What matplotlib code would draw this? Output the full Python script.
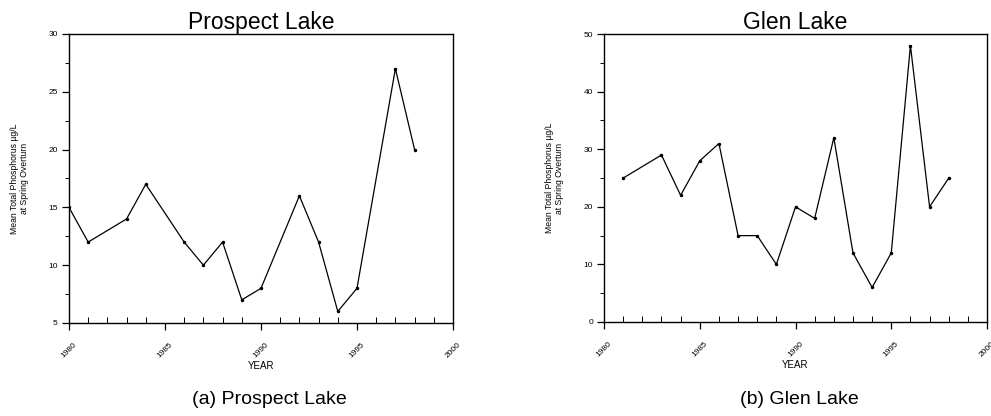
import matplotlib
matplotlib.use("Agg")
import matplotlib.pyplot as plt
from matplotlib.ticker import MultipleLocator

prospect_years = [1980, 1981, 1983, 1984, 1986, 1987, 1988, 1989, 1990, 1992, 1993, 1994, 1995, 1997, 1998]
prospect_tp = [15, 12, 14, 17, 12, 10, 12, 7, 8, 16, 12, 6, 8, 27, 20]

glen_years = [1981, 1983, 1984, 1985, 1986, 1987, 1988, 1989, 1990, 1991, 1992, 1993, 1994, 1995, 1996, 1997, 1998]
glen_tp = [25, 29, 22, 28, 31, 15, 15, 10, 20, 18, 32, 12, 6, 12, 48, 20, 25]

xticks = [1980, 1985, 1990, 1995, 2000]
xticklabels = ["1980", "1985", "1990", "1995", "2000"]

plt.rcParams['font.family'] = ['Liberation Sans', 'DejaVu Sans']

fig = plt.figure(figsize=(9.91, 4.16), dpi=100)

def style(ax, ylim, ymaj, ymin):
    ax.set_xlim(1980, 2000)
    ax.set_ylim(*ylim)
    ax.set_xticks(xticks)
    ax.set_xticklabels(xticklabels, rotation=45, fontsize=6, ha='center')
    ax.xaxis.set_minor_locator(MultipleLocator(1))
    ax.yaxis.set_major_locator(MultipleLocator(ymaj))
    ax.yaxis.set_minor_locator(MultipleLocator(ymin))
    ax.tick_params(axis='both', which='major', direction='out', length=5, width=0.9, labelsize=6, pad=3)
    ax.tick_params(axis='x', which='major', pad=8)
    ax.tick_params(axis='x', which='minor', direction='in', length=4, width=0.7)
    ax.tick_params(axis='y', which='minor', direction='out', length=3, width=0.7)
    for s in ax.spines.values():
        s.set_linewidth(1.0)
    ax.set_xlabel("YEAR", fontsize=7, labelpad=1)
    ax.set_ylabel("Mean Total Phosphorus \u00b5g/L\nat Spring Overturn", fontsize=6.2, labelpad=14)

ax1 = fig.add_axes([0.0696, 0.2236, 0.3875, 0.6947])
ax1.plot(prospect_years, prospect_tp, color='black', lw=0.9, marker='o', ms=1.5)
style(ax1, (5, 30), 5, 2.5)
ax1.set_title("Prospect Lake", fontsize=16.5, pad=1)

ax2 = fig.add_axes([0.6095, 0.226, 0.3865, 0.692])
ax2.plot(glen_years, glen_tp, color='black', lw=0.9, marker='o', ms=1.5)
style(ax2, (0, 50), 10, 5)
ax2.set_title("Glen Lake", fontsize=16.5, pad=1)

fig.text(0.272, 0.04, "(a) Prospect Lake", ha='center', va='center', fontsize=14)
fig.text(0.807, 0.04, "(b) Glen Lake", ha='center', va='center', fontsize=14)

fig.savefig("out.png", dpi=100)
